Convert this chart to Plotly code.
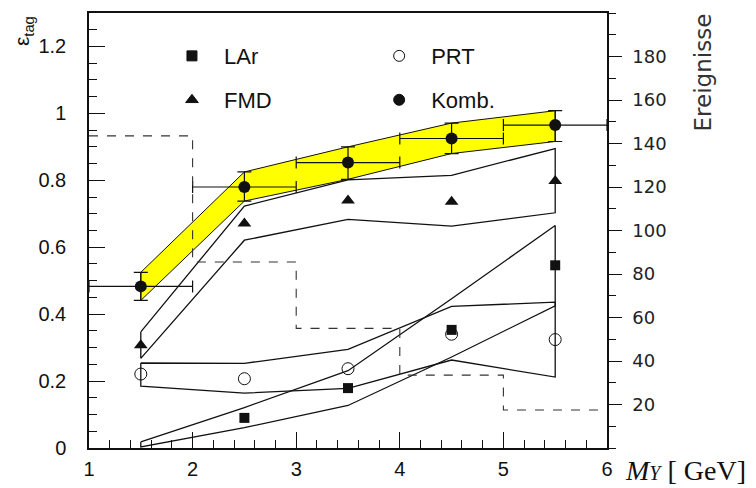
import plotly.graph_objects as go

# ---------------- data ----------------
mass = [1.5, 2.5, 3.5, 4.5, 5.5]
mass_halfwidth = [0.5, 0.5, 0.5, 0.5, 0.5]

lar = [None, 0.090, 0.179, 0.353, 0.546]
lar_hi = [0.018, 0.121, 0.231, 0.446, 0.665]
lar_lo = [0.003, 0.061, 0.127, 0.272, 0.425]

prt = [0.221, 0.207, 0.237, 0.340, 0.324]
prt_hi = [0.254, 0.253, 0.295, 0.423, 0.436]
prt_lo = [0.185, 0.164, 0.178, 0.263, 0.212]

fmd = [0.307, 0.671, 0.740, 0.736, 0.798]
fmd_hi = [0.347, 0.723, 0.801, 0.815, 0.895]
fmd_lo = [0.268, 0.621, 0.683, 0.663, 0.703]

komb = [0.483, 0.780, 0.853, 0.925, 0.965]
komb_hi = [0.525, 0.825, 0.900, 0.971, 1.008]
komb_lo = [0.441, 0.738, 0.803, 0.880, 0.916]

bin_edges = [1, 2, 3, 4, 5, 6]
events = [143.5, 85.5, 55.0, 33.5, 17.5]

right_ticks = [20, 40, 60, 80, 100, 120, 140, 160, 180]
right_ticktext = ["20", "40", "60", "80", "100", "120", "140", "160", "180"]

INK = "#111111"
SANS = "Liberation Sans, Arial, sans-serif"


def band_polygon(xs, hi, lo):
    px = list(xs) + list(xs[::-1]) + [xs[0]]
    py = list(hi) + list(lo[::-1]) + [hi[0]]
    return px, py


fig = go.Figure()

# yellow combined band
bx, by = band_polygon(mass, komb_hi, komb_lo)
fig.add_trace(go.Scatter(x=bx, y=by, mode="lines", fill="toself",
                         fillcolor="#ffff00", line=dict(color=INK, width=1),
                         showlegend=False, hoverinfo="skip"))

# event histogram (right axis)
fig.add_trace(go.Scatter(x=bin_edges, y=events + [events[-1]], yaxis="y2",
                         mode="lines", line=dict(color="#333333", width=1.1, dash="dash", shape="hv"),
                         showlegend=False, hoverinfo="skip"))

# outlined bands
for hi, lo in [(fmd_hi, fmd_lo), (prt_hi, prt_lo), (lar_hi, lar_lo)]:
    bx, by = band_polygon(mass, hi, lo)
    fig.add_trace(go.Scatter(x=bx, y=by, mode="lines",
                             line=dict(color=INK, width=1.3),
                             showlegend=False, hoverinfo="skip"))

# markers
fig.add_trace(go.Scatter(x=mass, y=lar, mode="markers",
                         marker=dict(symbol="square", size=10, color=INK),
                         showlegend=False))
fig.add_trace(go.Scatter(x=mass, y=prt, mode="markers",
                         marker=dict(symbol="circle-open", size=12, color=INK, line=dict(width=1)),
                         showlegend=False))
fig.add_trace(go.Scatter(x=mass, y=fmd, mode="markers",
                         marker=dict(symbol="triangle-up", size=12, color=INK),
                         showlegend=False))
fig.add_trace(go.Scatter(
    x=mass, y=komb, mode="markers",
    marker=dict(symbol="circle", size=12, color=INK),
    error_x=dict(type="data", array=mass_halfwidth, color=INK, thickness=1.2, width=6),
    error_y=dict(type="data", symmetric=False,
                 array=[h - v for h, v in zip(komb_hi, komb)],
                 arrayminus=[v - l for v, l in zip(komb, komb_lo)],
                 color=INK, thickness=1.2, width=7),
    showlegend=False))

# legend entries (legend-only traces)
legend_items = [
    ("LAr", "square", 10, "legend"),
    ("FMD", "triangle-up", 11, "legend2"),
    ("PRT", "circle-open", 11, "legend3"),
    ("Komb.", "circle", 11, "legend4"),
]
for name, sym, sz, lg in legend_items:
    fig.add_trace(go.Scatter(x=[None], y=[None], mode="markers", name=name,
                             marker=dict(symbol=sym, size=sz, color=INK, line=dict(width=1, color=INK)),
                             legend=lg, showlegend=True))

legend_style = dict(font=dict(family=SANS, size=22, color=INK),
                    bgcolor="rgba(0,0,0,0)", borderwidth=0, itemwidth=54,
                    xanchor="left", yanchor="middle", itemclick=False)

# the page body adds an 8px offset, so the figure is 8px smaller on each axis
fig.update_layout(
    width=748, height=480,
    margin=dict(l=81, r=149, t=5, b=40, autoexpand=False),
    plot_bgcolor="white", paper_bgcolor="white",
    font=dict(family=SANS, color=INK),
    legend=dict(x=0.137, y=0.901, **legend_style),
    legend2=dict(x=0.137, y=0.800, **legend_style),
    legend3=dict(x=0.537, y=0.901, **legend_style),
    legend4=dict(x=0.537, y=0.800, **legend_style),
    xaxis=dict(range=[1, 6], dtick=1, tick0=1, showgrid=False, zeroline=False,
               showline=True, linecolor=INK, linewidth=1.5, mirror=True,
               ticks="inside", ticklen=16, tickwidth=1.3, tickcolor=INK,
               ticklabelstandoff=2, automargin=False,
               tickfont=dict(size=20, family=SANS),
               minor=dict(dtick=0.2, ticks="inside", ticklen=8, tickwidth=1.3, tickcolor=INK, showgrid=False)),
    yaxis=dict(range=[0, 1.3], dtick=0.2, tick0=0, showgrid=False, zeroline=False,
               showline=True, linecolor=INK, linewidth=1.5,
               ticks="inside", ticklen=16, tickwidth=1.3, tickcolor=INK,
               ticklabelstandoff=17, automargin=False,
               tickfont=dict(size=20, family=SANS),
               minor=dict(dtick=0.05, ticks="inside", ticklen=8, tickwidth=1.3, tickcolor=INK, showgrid=False)),
    yaxis2=dict(range=[0, 200], overlaying="y", side="right", showgrid=False, zeroline=False,
                showline=True, linecolor=INK, linewidth=1.5, automargin=False,
                tickmode="array", tickvals=right_ticks, ticktext=right_ticktext,
                ticks="outside", ticklen=13, tickwidth=1.3, tickcolor=INK,
                ticklabelstandoff=7,
                tickfont=dict(size=18, family="DejaVu Sans, sans-serif", color="#222222"),
                minor=dict(tickmode="linear", tick0=0, dtick=10, ticks="outside", ticklen=7,
                           tickwidth=1.3, tickcolor=INK, showgrid=False)),
    annotations=[
        dict(text="ε<sub>tag</sub>", xref="paper", yref="paper", x=-0.126, y=0.958,
             xanchor="center", yanchor="middle", textangle=-90, showarrow=False,
             font=dict(size=21, family=SANS, color=INK)),
        dict(text="Ereignisse", xref="paper", yref="paper", x=1.185, y=0.863,
             xanchor="center", yanchor="middle", textangle=-90, showarrow=False,
             font=dict(size=23, family="DejaVu Sans, sans-serif", color="#333333")),
        dict(text="<i>M</i><span style='font-size:20px'><i>Y</i></span> [ GeV]",
             xref="paper", yref="paper",
             x=1.030, y=-0.091, xanchor="left", yanchor="bottom", showarrow=False,
             font=dict(size=28, family="Liberation Serif, DejaVu Serif, serif", color=INK)),
    ],
)

fig.write_html("out.html")
